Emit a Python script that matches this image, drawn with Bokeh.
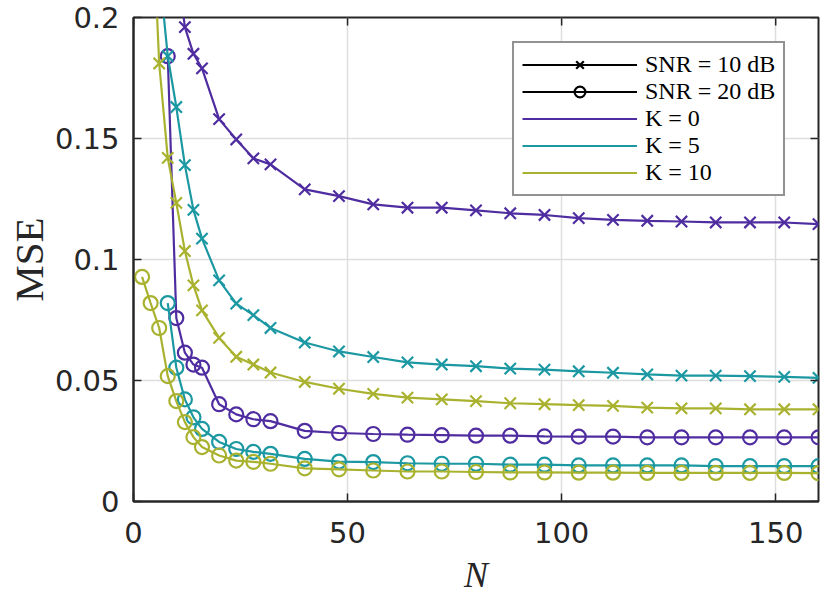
import math
from bokeh.plotting import figure
from bokeh.models import (Legend, LegendItem, FixedTicker, ColumnDataSource, Range1d)
from bokeh.embed import file_html
from bokeh.resources import INLINE

nan = float("nan")

# ---- data ----
N = [2, 4, 6, 8, 10, 12, 14, 16, 20, 24, 28, 32,
     40, 48, 56, 64, 72, 80, 88, 96, 104, 112, 120, 128, 136, 144, 152, 160]

mse_k0_snr10 = [nan, nan, nan, nan, 0.225, 0.196, 0.185, 0.179, 0.158, 0.1496, 0.1418, 0.1393,
                0.129, 0.1262, 0.1228, 0.1214, 0.1214, 0.1203, 0.1191, 0.1184, 0.1171, 0.1164,
                0.116, 0.1157, 0.1153, 0.1153, 0.1153, 0.1146]
mse_k5_snr10 = [nan, nan, 0.22, 0.184, 0.163, 0.139, 0.1205, 0.1086, 0.0914, 0.0818, 0.077, 0.0717,
                0.0657, 0.062, 0.0597, 0.0575, 0.0566, 0.0559, 0.0549, 0.0545, 0.0538, 0.0532,
                0.0525, 0.052, 0.052, 0.0518, 0.0515, 0.0511]
mse_k10_snr10 = [nan, 0.26, 0.181, 0.142, 0.1234, 0.1035, 0.0893, 0.079, 0.0676, 0.0598, 0.0566, 0.0533,
                 0.0494, 0.0466, 0.0445, 0.0429, 0.0422, 0.0415, 0.0406, 0.0402, 0.0398, 0.0395,
                 0.0388, 0.0385, 0.0385, 0.0381, 0.0381, 0.0381]
mse_k0_snr20 = [nan, nan, nan, 0.184, 0.0758, 0.0615, 0.0566, 0.0553, 0.0402, 0.036, 0.034, 0.0332,
                0.0292, 0.0283, 0.0279, 0.0276, 0.0274, 0.0272, 0.0272, 0.0269, 0.0268, 0.0268,
                0.0265, 0.0265, 0.0265, 0.0265, 0.0265, 0.0265]
mse_k5_snr20 = [nan, nan, nan, 0.082, 0.0553, 0.0422, 0.0348, 0.030, 0.0246, 0.0217, 0.0205, 0.0197,
                0.0176, 0.0165, 0.0163, 0.0158, 0.0156, 0.0156, 0.0152, 0.0152, 0.0149, 0.0149,
                0.0149, 0.0149, 0.0146, 0.0146, 0.0146, 0.0146]
mse_k10_snr20 = [0.0928, 0.082, 0.0717, 0.0518, 0.0415, 0.0328, 0.0266, 0.0225, 0.019, 0.0169, 0.0164, 0.0156,
                 0.0137, 0.0133, 0.0128, 0.0124, 0.0124, 0.0122, 0.012, 0.012, 0.0119, 0.0119,
                 0.0118, 0.0118, 0.0118, 0.0118, 0.0118, 0.0117]

x_range = (0, 160)
y_range = (0, 0.2)
x_ticks = [0, 50, 100, 150]
x_tick_labels = ["0", "50", "100", "150"]
y_ticks = [0, 0.05, 0.1, 0.15, 0.2]
y_tick_labels = ["0", "0.05", "0.1", "0.15", "0.2"]

k_labels = ["K = 0", "K = 5", "K = 10"]
snr_labels = ["SNR = 10 dB", "SNR = 20 dB"]

# ---- styles ----
colors = ["#4f2da0", "#1b98a2", "#a9b22f"]
AX = "#262626"
LW = 2.2
XSIZE = 16
OSIZE = 14

p = figure(width=830, height=597, x_range=Range1d(*x_range), y_range=Range1d(*y_range),
           output_backend="svg", toolbar_location=None,
           min_border_left=133, min_border_right=12, min_border_top=17, min_border_bottom=94)
p.background_fill_color = "white"
p.border_fill_color = "white"
p.outline_line_color = AX
p.outline_line_width = 2

series = [
    (mse_k0_snr10, 0, "x"), (mse_k0_snr20, 0, "circle"),
    (mse_k5_snr10, 1, "x"), (mse_k5_snr20, 1, "circle"),
    (mse_k10_snr10, 2, "x"), (mse_k10_snr20, 2, "circle"),
]
for vals, ci, mk in series:
    src = ColumnDataSource(dict(x=N, y=vals))
    p.line("x", "y", source=src, line_color=colors[ci], line_width=LW)
    if mk == "x":
        p.scatter("x", "y", source=src, marker="x", size=XSIZE, line_color=colors[ci], line_width=2.2)
    else:
        p.scatter("x", "y", source=src, marker="circle", size=OSIZE, line_color=colors[ci],
                  fill_color=None, line_width=2.2)

# axes styling
for ax in (p.xaxis[0], p.yaxis[0]):
    ax.axis_line_color = AX
    ax.axis_line_width = 2
    ax.major_tick_line_color = AX
    ax.major_tick_line_width = 1.5
    ax.major_tick_in = 8
    ax.major_tick_out = 0
    ax.minor_tick_line_color = None
    ax.major_label_text_font = "DejaVu Sans"
    ax.major_label_text_font_size = "29px"
    ax.major_label_text_color = AX
    ax.axis_label_text_font = "Liberation Serif"
    ax.axis_label_text_color = AX

p.xaxis.ticker = FixedTicker(ticks=x_ticks)
p.yaxis.ticker = FixedTicker(ticks=y_ticks)
p.xaxis.major_label_overrides = dict(zip(x_ticks, x_tick_labels))
p.yaxis.major_label_overrides = dict(zip(y_ticks, y_tick_labels))
p.xaxis.major_label_standoff = 20
p.yaxis.major_label_standoff = 14
p.xaxis.axis_label = "N"
p.xaxis.axis_label_text_font_style = "italic"
p.xaxis.axis_label_text_font_size = "36px"
p.xaxis.axis_label_standoff = 9
p.yaxis.axis_label = "MSE"
p.yaxis.axis_label_text_font_style = "normal"
p.yaxis.axis_label_text_font_size = "41px"
p.yaxis.axis_label_standoff = 0

p.xgrid.ticker = FixedTicker(ticks=x_ticks)
p.ygrid.ticker = FixedTicker(ticks=y_ticks)
p.grid.grid_line_color = "#dedede"
p.grid.grid_line_width = 1.5

# inward box ticks on top and right edges (from the tick lists)
p.ray(x=x_ticks, y=[y_range[1]] * len(x_ticks), length=8, length_units="screen",
      angle=-math.pi / 2, line_color=AX, line_width=1.5)
p.ray(x=[x_range[1]] * len(y_ticks), y=y_ticks, length=8, length_units="screen",
      angle=math.pi, line_color=AX, line_width=1.5)

# legend proxies (single NaN point: nothing drawn on the plot)
proxy = lambda: ColumnDataSource(dict(x=[nan], y=[nan]))
items = []
r1 = p.line("x", "y", source=proxy(), line_color="black", line_width=LW)
r2 = p.scatter("x", "y", source=proxy(), marker="x", size=XSIZE, line_color="black", line_width=2.2)
items.append(LegendItem(label=snr_labels[0], renderers=[r1, r2]))
r3 = p.line("x", "y", source=proxy(), line_color="black", line_width=LW)
r4 = p.scatter("x", "y", source=proxy(), marker="circle", size=OSIZE, line_color="black",
               fill_color=None, line_width=2.2)
items.append(LegendItem(label=snr_labels[1], renderers=[r3, r4]))
for ci, lab in enumerate(k_labels):
    rr = p.line("x", "y", source=proxy(), line_color=colors[ci], line_width=LW)
    items.append(LegendItem(label=lab, renderers=[rr]))

leg = Legend(items=items, location=(379, 305), orientation="vertical",
             glyph_width=115, glyph_height=27, label_height=27, label_standoff=8,
             spacing=0, padding=8, margin=0,
             label_text_font="Liberation Serif", label_text_font_size="24px",
             label_text_font_style="normal", label_text_color="black",
             border_line_color=AX, border_line_width=2,
             background_fill_color="white", background_fill_alpha=1.0)
p.add_layout(leg, "center")

open("out.html", "w").write(file_html(p, INLINE))
